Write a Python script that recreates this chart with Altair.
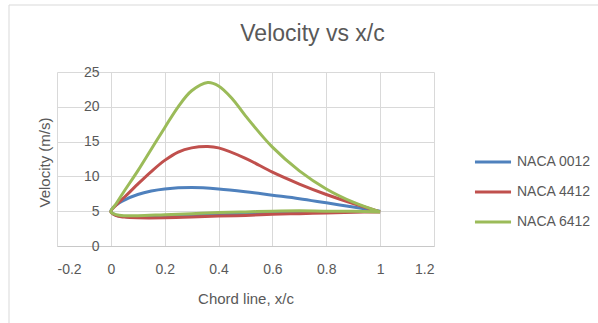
import altair as alt
import pandas as pd

series_names = ["NACA 0012", "NACA 4412", "NACA 6412"]
series_colors = ["#4F81BD", "#C0504D", "#9BBB59"]

# Upper surface, trailing edge -> leading edge
x_up_0012 = [1.0, 0.9, 0.8, 0.7, 0.6, 0.5, 0.4, 0.3, 0.2, 0.15, 0.1, 0.05, 0.02, 0.0]
v_up_0012 = [5.0, 5.6, 6.2, 6.8, 7.3, 7.8, 8.2, 8.4, 8.2, 7.9, 7.4, 6.6, 5.9, 5.0]
# Lower surface, leading edge -> trailing edge
x_lo_0012 = [0.02, 0.05, 0.1, 0.2, 0.3, 0.4, 0.6, 0.8, 1.0]
v_lo_0012 = [4.4, 4.25, 4.2, 4.3, 4.4, 4.5, 4.7, 4.85, 5.0]

x_up_4412 = [1.0, 0.9, 0.8, 0.7, 0.6, 0.5, 0.4, 0.36, 0.3, 0.25, 0.2, 0.15, 0.1, 0.05, 0.02, 0.0]
v_up_4412 = [4.9, 6.1, 7.4, 8.9, 10.6, 12.6, 14.1, 14.3, 14.1, 13.5, 12.3, 10.7, 8.9, 7.0, 5.9, 4.9]
x_lo_4412 = [0.02, 0.05, 0.1, 0.2, 0.3, 0.4, 0.5, 0.6, 0.7, 0.8, 0.9, 1.0]
v_lo_4412 = [4.35, 4.15, 4.05, 4.05, 4.15, 4.3, 4.4, 4.55, 4.65, 4.75, 4.85, 4.9]

x_up_6412 = [1.0, 0.9, 0.8, 0.7, 0.6, 0.5, 0.45, 0.4, 0.36, 0.3, 0.25, 0.2, 0.15, 0.1, 0.05, 0.02, 0.0]
v_up_6412 = [4.9, 6.3, 8.2, 10.8, 14.2, 18.7, 21.2, 23.0, 23.5, 22.3, 20.0, 17.0, 13.9, 10.8, 7.9, 6.1, 4.9]
x_lo_6412 = [0.02, 0.05, 0.1, 0.2, 0.3, 0.4, 0.5, 0.6, 0.7, 0.8, 0.9, 1.0]
v_lo_6412 = [4.5, 4.35, 4.35, 4.5, 4.65, 4.8, 4.9, 5.0, 5.05, 5.0, 5.0, 4.9]

x_ticks = [-0.2, 0, 0.2, 0.4, 0.6, 0.8, 1, 1.2]
y_ticks = [0, 5, 10, 15, 20, 25]

surfaces = [
    (x_up_0012 + x_lo_0012, v_up_0012 + v_lo_0012),
    (x_up_4412 + x_lo_4412, v_up_4412 + v_lo_4412),
    (x_up_6412 + x_lo_6412, v_up_6412 + v_lo_6412),
]

rows = []
for name, (xs, vs) in zip(series_names, surfaces):
    for i, (xv, vv) in enumerate(zip(xs, vs)):
        rows.append({"series": name, "xc": xv, "vel": vv, "idx": i})
df = pd.DataFrame(rows)

FONT = "Liberation Sans"
GREY = "#595959"

lines = alt.Chart(df).mark_line(
    interpolate="catmull-rom", strokeWidth=3, clip=False
).encode(
    x=alt.X(
        "xc:Q",
        scale=alt.Scale(domain=[-0.2, 1.2], nice=False, zero=False),
        axis=alt.Axis(
            values=x_ticks,
            labelExpr="datum.value < 0 ? '-' + format(-datum.value, '~g') : format(datum.value, '~g')",
            title="Chord line, x/c",
            grid=True,
            ticks=False,
            tickSize=0,
            domain=True,
            domainColor="#C8C8C8",
            labelPadding=16,
            titleY=52,
            titleBaseline="middle",
        ),
    ),
    y=alt.Y(
        "vel:Q",
        scale=alt.Scale(domain=[0, 25], nice=False),
        axis=alt.Axis(
            values=y_ticks,
            title="Velocity (m/s)",
            grid=True,
            ticks=False,
            tickSize=0,
            domain=False,
            offset=-54,
            labelPadding=12,
            titleX=-67,
            titleY=90,
            titleBaseline="middle",
        ),
    ),
    color=alt.Color(
        "series:N",
        scale=alt.Scale(domain=series_names, range=series_colors),
        legend=alt.Legend(
            title=None,
            orient="none",
            legendX=416,
            legendY=70,
            symbolType="stroke",
            symbolSize=1300,
            symbolStrokeWidth=3,
            rowPadding=3,
            labelOffset=4,
            labelFont=FONT,
            labelFontSize=14,
            labelColor=GREY,
        ),
    ),
    order=alt.Order("idx:Q"),
)

frame = alt.Chart(pd.DataFrame({"a": [0]})).mark_rect(
    filled=False, stroke="#D9D9D9", strokeWidth=1, clip=False
).encode(
    x=alt.value(-48), x2=alt.value(700), y=alt.value(-67), y2=alt.value(400)
)

chart = alt.layer(frame, lines).properties(
    width=377,
    height=174,
    background="white",
    autosize=alt.AutoSizeParams(type="none"),
    padding={"left": 57, "top": 72, "right": 164, "bottom": 77},
    title=alt.TitleParams(
        "Velocity vs x/c",
        anchor="middle",
        frame="group",
        dx=67,
        dy=45,
        font=FONT,
        fontSize=23,
        fontWeight="normal",
        color=GREY,
    ),
).configure_view(stroke=None).configure_axis(
    gridColor="#D9D9D9",
    gridWidth=1,
    labelFont=FONT,
    labelFontSize=14,
    labelColor=GREY,
    titleFont=FONT,
    titleFontSize=15,
    titleFontWeight="normal",
    titleColor=GREY,
)

chart.save("out.html", embed_options={"renderer": "svg", "actions": False})
